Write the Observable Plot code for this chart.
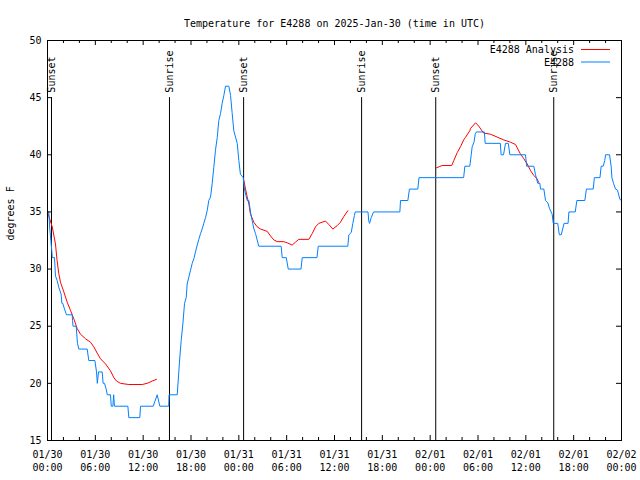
<!DOCTYPE html>
<html><head><meta charset="utf-8">
<script src="https://cdn.jsdelivr.net/npm/d3@7"></script>
<script src="https://cdn.jsdelivr.net/npm/@observablehq/plot@0.6"></script>
<style>body{margin:0;background:#fff}</style>
</head><body><div id="chart"></div>
<script>
// ---- data (hours since 2025-01-30 00:00 UTC) ----
const chartTitle = "Temperature for E4288 on 2025-Jan-30 (time in UTC)";
const yLabel = "degrees F";
const seriesNames = ["E4288 Analysis", "E4288"];
const seriesColors = ["#ff0000", "#0080ff"];

const obsHours = [0.0,0.16,0.29,0.42,0.55,0.6,0.88,1.0,1.21,1.42,1.71,1.8,1.92,2.13,2.38,3.1,3.14,3.2,3.6,3.76,3.93,4.98,5.18,5.94,6.15,6.25,6.4,6.86,6.98,7.15,7.36,7.5,7.9,8.0,8.2,8.3,8.4,10.08,10.2,11.58,11.67,13.26,13.76,14.09,15.2,15.25,16.27,16.47,16.6,16.77,16.98,17.19,17.4,17.52,17.73,17.94,18.15,18.36,18.56,18.78,18.98,19.19,19.4,19.6,19.82,20.03,20.23,20.45,20.66,20.86,21.07,21.29,21.49,21.7,21.91,22.12,22.33,22.75,22.96,23.17,23.37,23.8,24.0,24.2,24.55,24.7,25.05,25.26,25.46,25.67,25.9,26.1,26.5,29.31,29.44,29.95,30.2,31.8,31.95,33.8,33.96,37.67,37.8,38.1,38.3,38.5,38.6,40.2,40.3,40.4,40.6,40.9,44.2,44.28,45.2,45.4,46.45,46.6,52.2,52.35,52.97,53.15,53.27,53.5,53.65,53.8,54.8,54.9,56.8,56.9,57.2,57.45,57.8,58.0,59.96,60.1,61.0,61.2,61.5,61.76,61.84,62.26,62.47,62.76,62.97,63.3,63.44,64.0,64.2,64.44,64.8,65.3,65.4,66.2,66.4,67.4,67.6,68.45,68.6,69.3,69.45,69.7,69.9,70.0,70.5,70.7,70.8,71.0,71.25,71.5,71.8,72.0];
const obsTemps = [35,35,33.5,32.5,31.5,31,31,29.4,29,28.4,27.8,27,27,26.5,26,26,25.5,25,25,23.5,23,23,22,22,21,20,21,21,20,20,19.5,19,19,18,18,19,18,18,17,17,18,18,19,18,18,19,19,21,22.3,23.75,25.2,27,27.5,28.7,29.3,29.9,30.5,30.9,31.5,32.1,32.6,33.1,33.5,34,34.5,35.1,36,36.3,37.5,38.9,40.4,41.5,43,43.6,44.5,45.2,46,46,45.2,43.6,42.1,41,39.5,38.3,38,37,36,36,35,34.25,33.5,33.1,32,32,31,31,30,30,31,31,32,32,33,33.2,34,34.7,35,35,34.2,34,34.5,35,35,36,36,37,37,38,38,39,39,40,40.7,41.1,41.8,42,42,41,41,40,40,41,41,40,40,39,39,38.3,37.5,37.5,37,37,36,35.8,35.3,34.8,34,34,33,33,34,34,35,35,36,36,37,37,38,38,39,39,39.5,40,40,39,38,37.5,37,36.9,36.1,36];

// analysis: null marks a gap between runs
const anaHours = [0.0,0.59,1.0,1.2,1.42,1.63,2.05,2.47,2.88,3.3,3.72,4.14,4.77,5.39,5.81,6.23,6.65,7.28,7.9,8.32,8.66,9.16,10.2,11.88,12.5,13.13,13.67,
  null,
  24.63,24.84,25.05,25.26,25.46,25.88,26.3,26.72,27.56,27.97,28.39,28.81,29.64,30.07,30.69,31.1,31.52,32.78,33.2,33.62,34.03,34.87,35.29,35.79,36.33,36.75,37.17,37.67,
  null,
  48.8,49.2,49.5,50.7,50.97,51.4,51.8,52.2,52.4,52.97,53.06,53.7,54.1,54.7,55.57,56.4,57.24,58.08,58.7,59.0,59.3,59.75,60.17,60.6,61.0,61.4,61.6];
const anaTemps = [35,33.7,32.2,30.75,29.6,28.85,28.0,27.1,26.4,25.65,24.8,24.3,23.9,23.6,23.2,22.65,22.15,21.7,21.1,20.5,20.2,20.0,19.9,19.9,20.0,20.2,20.35,
  null,
  37.75,37.0,36.3,35.7,34.8,34.1,33.7,33.5,33.3,32.9,32.55,32.4,32.4,32.3,32.1,32.35,32.6,32.6,33.1,33.7,34.0,34.2,33.9,33.5,33.8,34.1,34.6,35.1,
  null,
  38.86,38.98,39.06,39.06,39.5,40.2,40.7,41.3,41.5,42.1,42.3,42.8,42.5,41.9,41.8,41.55,41.3,41.1,40.9,40.5,40.1,39.65,39.2,38.6,38.2,37.9,37.6];

const sunHours = [0.5, 15.3, 24.6, 39.4, 48.7, 63.5];
const sunLabels = ["Sunset","Sunrise","Sunset","Sunrise","Sunset","Sunrise"];
const sunLineTop = 45;

const xTickHours = [0,6,12,18,24,30,36,42,48,54,60,66,72];
const xTickLabels = ["01/30\n00:00","01/30\n06:00","01/30\n12:00","01/30\n18:00","01/31\n00:00","01/31\n06:00","01/31\n12:00","01/31\n18:00","02/01\n00:00","02/01\n06:00","02/01\n12:00","02/01\n18:00","02/02\n00:00"];
const xMinorHours = d3.range(0, 73, 2).filter(h => h % 6 !== 0);
const yTicks = [15,20,25,30,35,40,45,50];

// ---- layout ----
const W = 640, H = 480, mL = 47, mR = 19, mT = 40, mB = 40;
const pw = W - mL - mR, ph = H - mT - mB;

const obs = obsHours.map((h, i) => ({h, t: obsTemps[i]}));
const ana = anaHours.map((h, i) => ({h, t: anaTemps[i]}));
const sun = sunHours.map((h, i) => ({h, label: sunLabels[i]}));
const fmtX = h => xTickLabels[xTickHours.indexOf(h)];

const chart = Plot.plot({
  width: W, height: H,
  marginLeft: mL, marginRight: mR, marginTop: mT, marginBottom: mB,
  style: {fontFamily: "'DejaVu Sans Mono', monospace", fontSize: "10px", background: "#fff", color: "#000"},
  x: {domain: [0, 72]},
  y: {domain: [15, 50]},
  marks: [
    Plot.ruleX(sun, {x: "h", y1: 15, y2: sunLineTop, stroke: "#000", strokeWidth: 1}),
    Plot.text(sun, {x: "h", y: sunLineTop, text: "label", rotate: -90, textAnchor: "start", dy: -5, fill: "#000"}),
    Plot.line(ana, {x: "h", y: "t", stroke: seriesColors[0], strokeWidth: 1}),
    Plot.line(obs, {x: "h", y: "t", stroke: seriesColors[1], strokeWidth: 1}),
    Plot.ruleX(xTickHours, {insetTop: ph - 5, stroke: "#000"}),
    Plot.ruleX(xTickHours, {insetBottom: ph - 5, stroke: "#000"}),
    Plot.ruleX(xMinorHours, {insetTop: ph - 3, stroke: "#000"}),
    Plot.ruleX(xMinorHours, {insetBottom: ph - 3, stroke: "#000"}),
    Plot.ruleY(yTicks, {insetRight: pw - 5, stroke: "#000"}),
    Plot.ruleY(yTicks, {insetLeft: pw - 5, stroke: "#000"}),
    Plot.axisX(xTickHours, {tickSize: 0, tickPadding: 8, tickFormat: fmtX, lineHeight: 1.3, label: null}),
    Plot.axisY(yTicks, {tickSize: 0, tickPadding: 6, label: null}),
    Plot.frame({stroke: "#000"}),
    Plot.text([yLabel], {frameAnchor: "left", dx: -37, rotate: -90}),
    Plot.text([chartTitle], {frameAnchor: "top", dy: -21})
  ]
});
document.getElementById("chart").appendChild(chart);

// legend inside the plot, top-right
const svg = d3.select(chart);
const lg = svg.append("g").attr("font-family", "'DejaVu Sans Mono', monospace").attr("font-size", 10);
seriesNames.forEach((name, i) => {
  const y = 50 + i * 12.5;
  lg.append("text").attr("x", 574).attr("y", y).attr("dy", "0.32em").attr("text-anchor", "end").attr("fill", "#000").text(name);
  lg.append("line").attr("x1", 581).attr("x2", 610).attr("y1", y - 0.5).attr("y2", y - 0.5).attr("stroke", seriesColors[i]);
});
</script>
</body></html>
